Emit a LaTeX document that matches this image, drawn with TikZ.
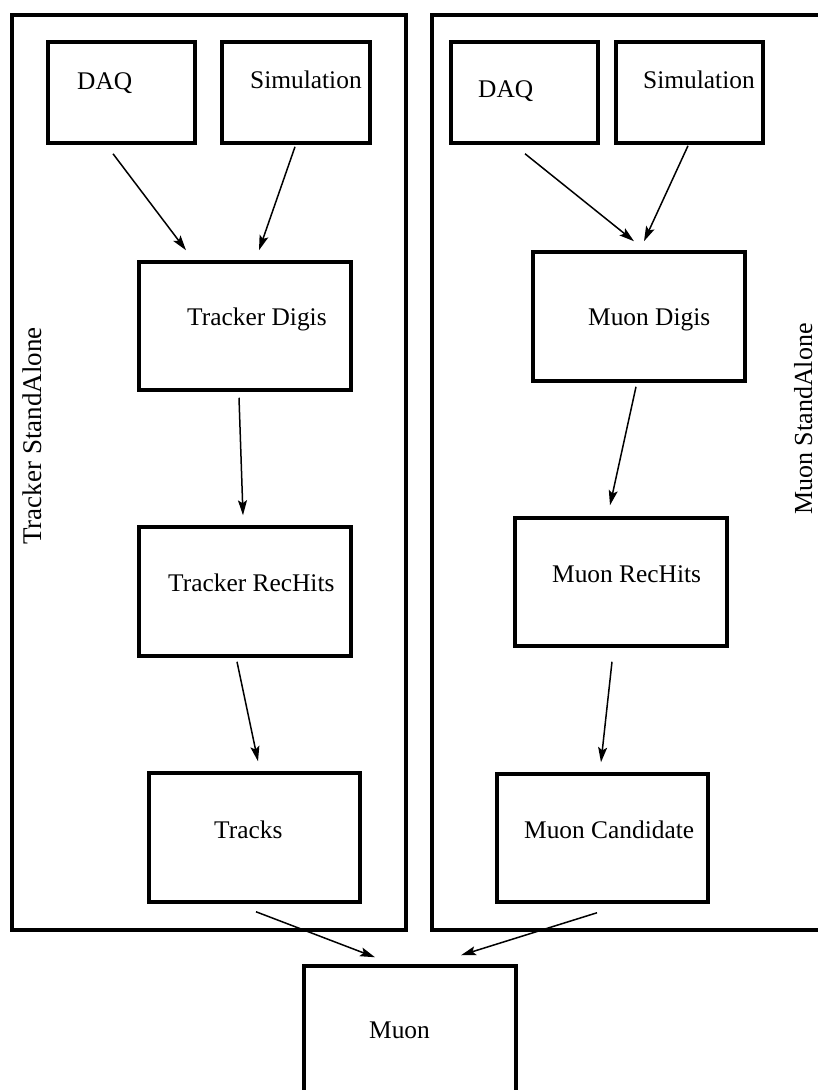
\documentclass[tikz,border=0pt]{standalone}
\usepackage{fontspec}
\setmainfont{Liberation Serif}
\usepackage{tikz}
\usetikzlibrary{arrows.meta}

\begin{document}
\begin{tikzpicture}[x=1pt, y=-1pt,
        frame/.style={draw, line width=3.5pt, inner sep=0pt},
        stage/.style={draw, line width=3.5pt, inner sep=0pt},
        lbl/.style={anchor=base west, inner sep=0pt, font=\fontsize{25.4}{30}\selectfont},
        side/.style={anchor=base, rotate=90, inner sep=0pt, font=\fontsize{27}{32}\selectfont},
        flow/.style={line width=1.5pt, -{Stealth[length=15pt, width=9pt, inset=3pt]}}
    ]
    \useasboundingbox (0, 0) rectangle (818, 1090);
    \clip (0, 0) rectangle (818, 1090);

    % outer frames
    \node[frame, minimum width=394pt, minimum height=915pt] (trkframe) at (209, 472.5) {};
    \node[frame, minimum width=400pt, minimum height=915pt] (muframe) at (632, 472.5) {};
    \node[side] (trklabel) at (41, 436) {Tracker StandAlone};
    \node[side, font=\fontsize{26}{31}\selectfont] (mulabel) at (812, 419) {Muon StandAlone};

    % tracker chain
    \node[stage, minimum width=147pt, minimum height=101pt] (tdaq) at (121.5, 92.5) {};
    \node[stage, minimum width=148pt, minimum height=101pt] (tsim) at (296, 92.5) {};
    \node[stage, minimum width=212pt, minimum height=128pt] (tdigi) at (245, 326) {};
    \node[stage, minimum width=212pt, minimum height=129pt] (trec) at (245, 591.5) {};
    \node[stage, minimum width=211pt, minimum height=129pt] (tracks) at (254.5, 837.5) {};

    % muon chain
    \node[stage, minimum width=147pt, minimum height=101pt] (mdaq) at (524.5, 92.5) {};
    \node[stage, minimum width=147pt, minimum height=101pt] (msim) at (689.5, 92.5) {};
    \node[stage, minimum width=212pt, minimum height=129pt] (mdigi) at (639, 316.5) {};
    \node[stage, minimum width=212pt, minimum height=128pt] (mrec) at (621, 582) {};
    \node[stage, minimum width=211pt, minimum height=128pt] (mcand) at (602.5, 838) {};

    \node[stage, minimum width=212pt, minimum height=129pt] (muon) at (410, 1030.5) {};

    % texts
    \node[lbl] (tdaqtxt) at (77, 89) {DAQ};
    \node[lbl] (tsimtxt) at (250, 88) {Simulation};
    \node[lbl] (tdigitxt) at (187, 325) {Tracker Digis};
    \node[lbl] (trectxt) at (168, 591) {Tracker RecHits};
    \node[lbl] (trackstxt) at (214, 838) {Tracks};
    \node[lbl] (mdaqtxt) at (478, 97) {DAQ};
    \node[lbl] (msimtxt) at (643, 88) {Simulation};
    \node[lbl] (mdigitxt) at (588, 325) {Muon Digis};
    \node[lbl] (mrectxt) at (552, 582) {Muon RecHits};
    \node[lbl] (mcandtxt) at (524, 838) {Muon Candidate};
    \node[lbl] (muontxt) at (369, 1038) {Muon};

    % arrows
    \draw[flow] ([xshift=-8.5pt, yshift=-9pt]tdaq.south) -- ([xshift=-59pt, yshift=10pt]tdigi.north);
    \draw[flow] ([xshift=-1pt, yshift=-2pt]tsim.south) -- ([xshift=14pt, yshift=10pt]tdigi.north);
    \draw[flow] ([xshift=-6pt, yshift=-6pt]tdigi.south) -- ([xshift=-2pt, yshift=10pt]trec.north);
    \draw[flow] ([xshift=-8pt, yshift=-4pt]trec.south) -- ([xshift=3.5pt, yshift=10pt]tracks.north);
    \draw[flow] ([xshift=1.5pt, yshift=-8pt]tracks.south) -- ([xshift=-35pt, yshift=7pt]muon.north);
    \draw[flow] ([xshift=0.5pt, yshift=-9pt]mdaq.south) -- ([xshift=-5pt, yshift=9pt]mdigi.north);
    \draw[flow] ([xshift=-1.5pt, yshift=-1pt]msim.south) -- ([xshift=5pt, yshift=9pt]mdigi.north);
    \draw[flow] ([xshift=-3pt, yshift=-4pt]mdigi.south) -- ([xshift=-11pt, yshift=11pt]mrec.north);
    \draw[flow] ([xshift=-9pt, yshift=-14pt]mrec.south) -- ([xshift=-1.5pt, yshift=10pt]mcand.north);
    \draw[flow] ([xshift=-5.5pt, yshift=-9pt]mcand.south) -- ([xshift=51pt, yshift=9pt]muon.north);
\end{tikzpicture}
\end{document}
